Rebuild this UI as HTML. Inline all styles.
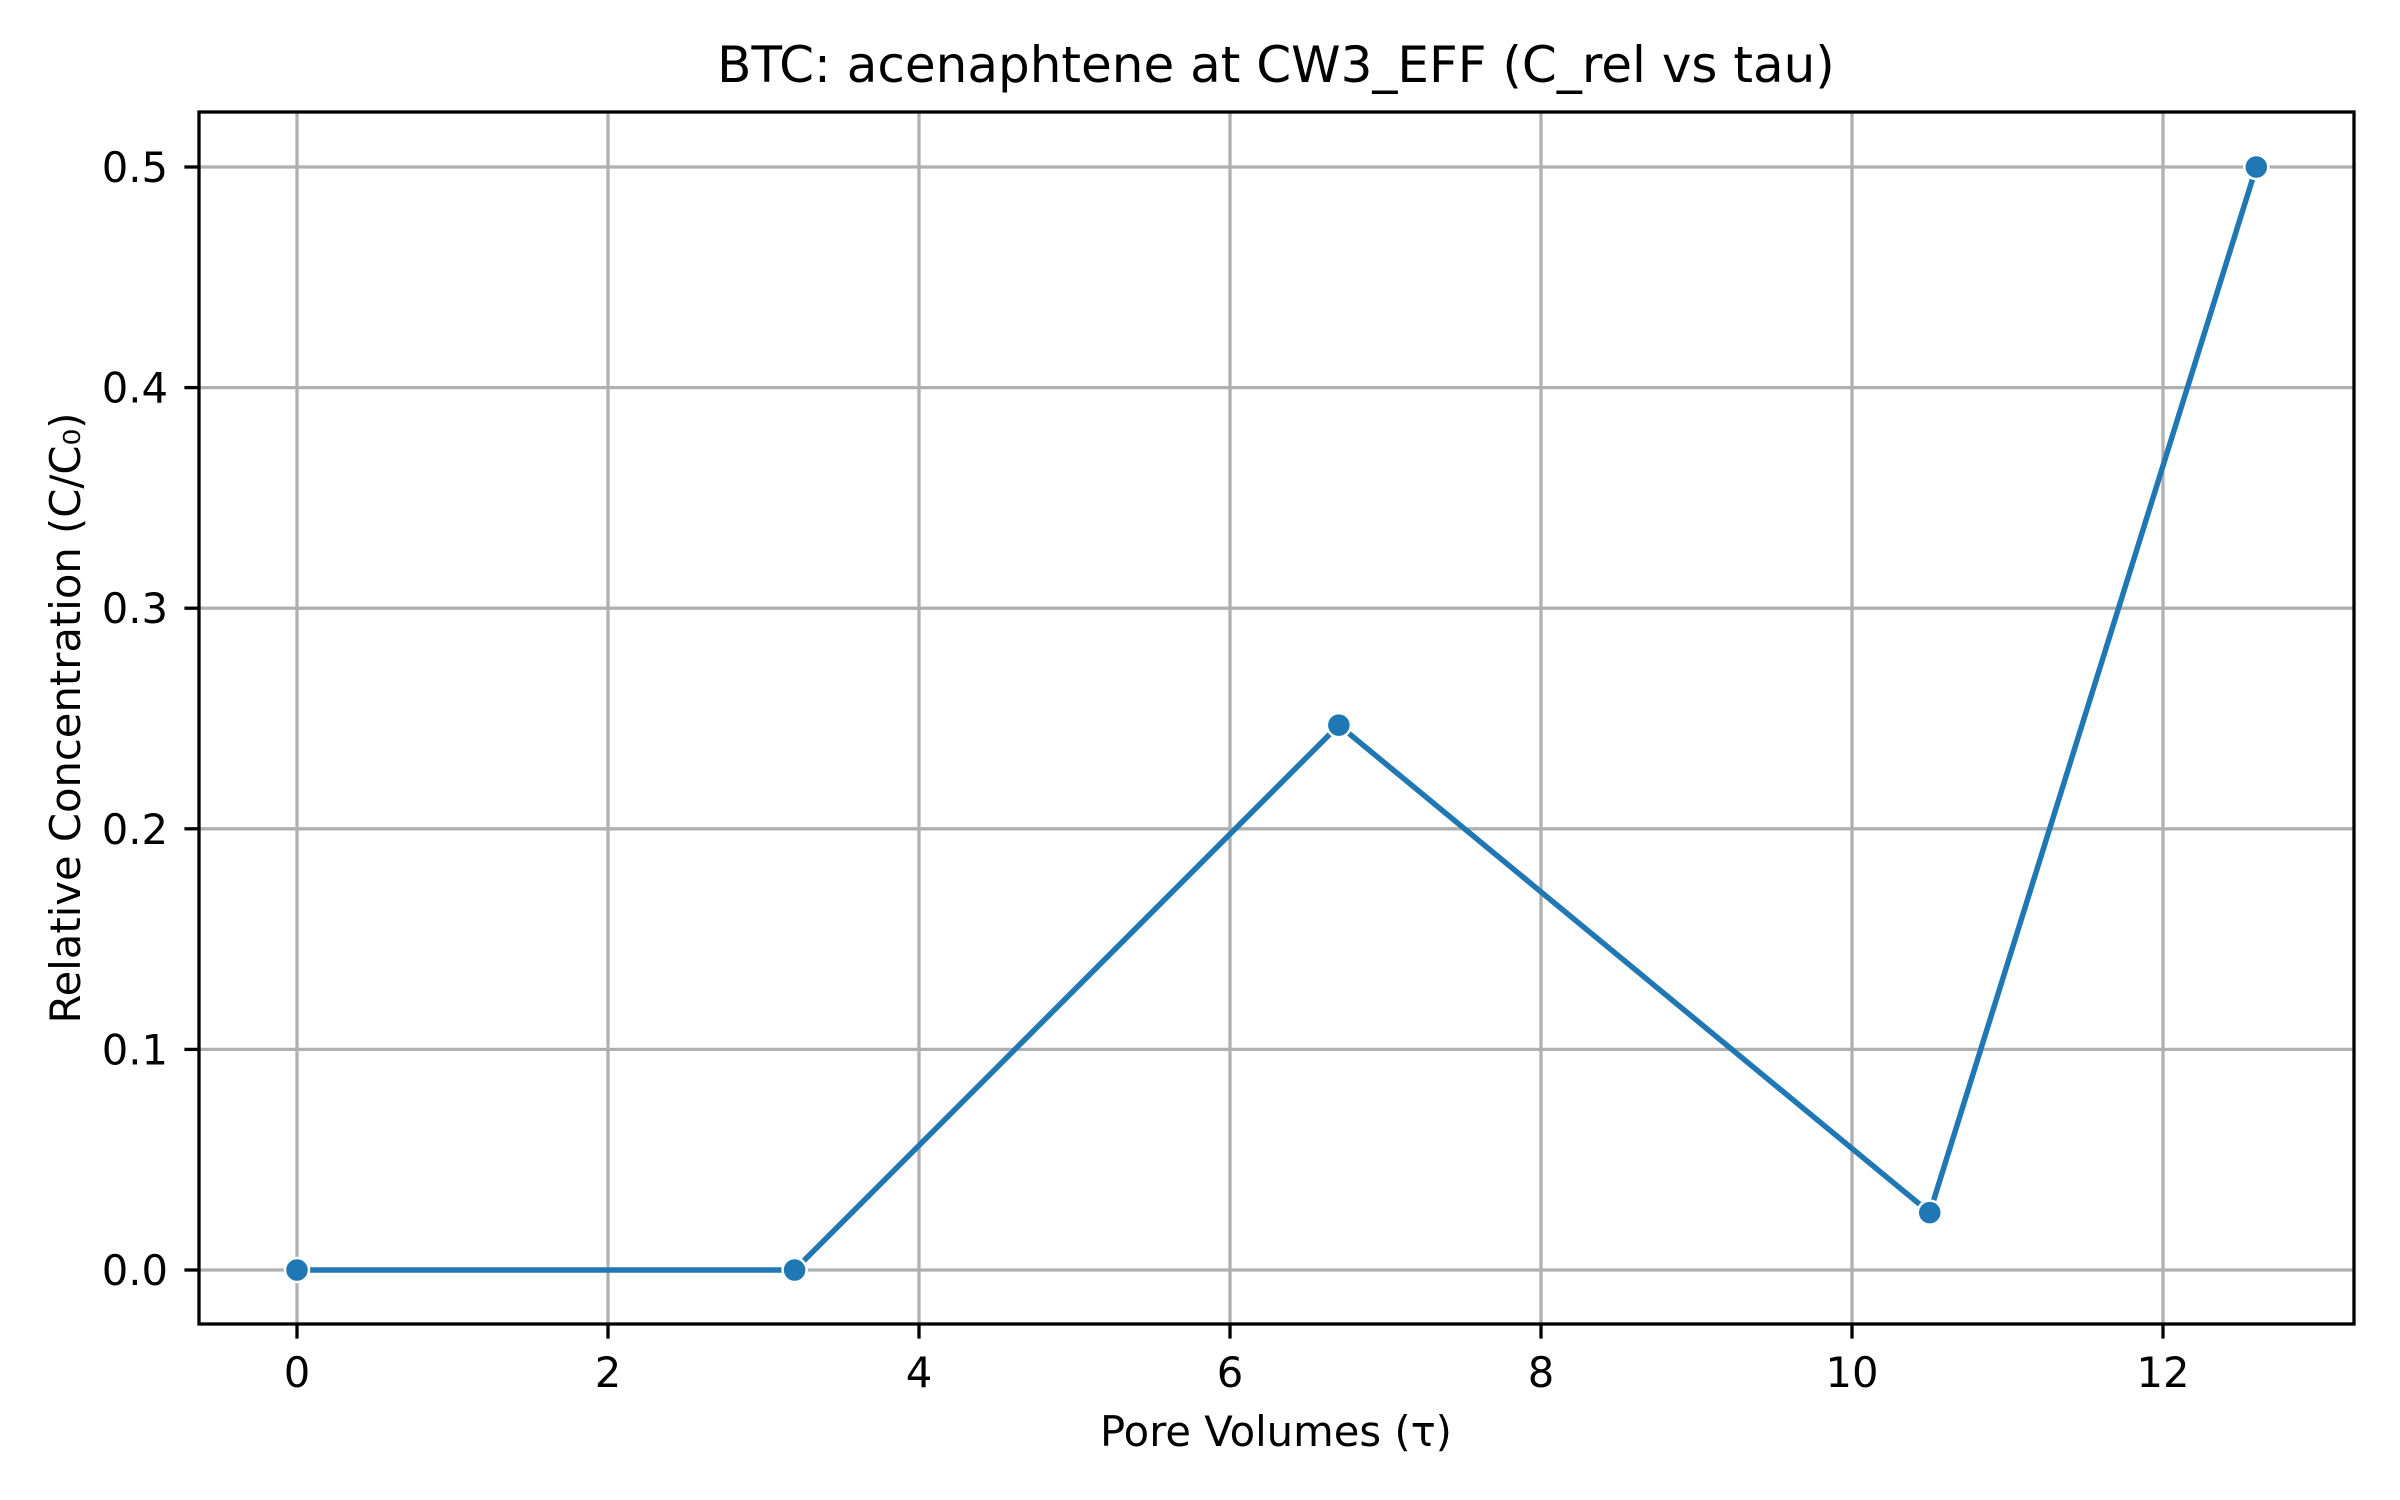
<!DOCTYPE html>
<html><head><meta charset="utf-8"><style>
html,body{margin:0;padding:0;background:#fff;}
svg{display:block;font-family:"DejaVu Sans","Liberation Sans",sans-serif;}
</style></head><body>
<svg id="chart" width="2400" height="1500" viewBox="0 0 2400 1500">
<rect x="0" y="0" width="2400" height="1500" fill="#fff"/>
<g id="grid"></g>
<g id="series"></g>
<rect x="199" y="112" width="2155" height="1212" fill="none" stroke="#000" stroke-width="3.3"/>
<g id="xticks"></g><g id="yticks"></g>
<text x="1276" y="82" text-anchor="middle" font-size="50">BTC: acenaphtene at CW3_EFF (C_rel vs tau)</text>
<text x="1276" y="1446" text-anchor="middle" font-size="41.7">Pore Volumes (τ)</text>
<text transform="translate(80,718) rotate(-90)" text-anchor="middle" font-size="41.7">Relative Concentration (C/C₀)</text>
</svg>
<script>
const tauValues=[0,3.2,6.7,10.5,12.6];
const crelValues=[0,0,0.247,0.026,0.5];
const xTickValues=[0,2,4,6,8,10,12];
const yTickValues=[0.0,0.1,0.2,0.3,0.4,0.5];
const yTickLabels=["0.0","0.1","0.2","0.3","0.4","0.5"];
const L=199,R=2354,T=112,B=1324;
function xs(v){return 297+v*155.5;}
function ys(v){return 1270-v*2206;}
const NS="http://www.w3.org/2000/svg";
function mk(t,a,p){const e=document.createElementNS(NS,t);for(const k in a)e.setAttribute(k,a[k]);p.appendChild(e);return e;}
const grid=document.getElementById('grid'),xt=document.getElementById('xticks'),yt=document.getElementById('yticks'),se=document.getElementById('series');
xTickValues.forEach(v=>{const x=xs(v);
const g=mk('line',{x1:x,x2:x,y1:T,y2:B,stroke:'#b0b0b0','stroke-width':3.3},grid);


const t=mk('line',{x1:x,x2:x,y1:B,y2:B+14.6,stroke:'#000','stroke-width':3.3},xt);


const l=mk('text',{x:x,y:1387,'text-anchor':'middle','font-size':41.7},xt);l.textContent=String(v);

});
yTickValues.forEach((v,i)=>{const y=ys(v);
const g=mk('line',{x1:L,x2:R,y1:y,y2:y,stroke:'#b0b0b0','stroke-width':3.3},grid);


const t=mk('line',{x1:L-14.6,x2:L,y1:y,y2:y,stroke:'#000','stroke-width':3.3},yt);


const l=mk('text',{x:168,y:y+15,'text-anchor':'end','font-size':41.7},yt);l.textContent=yTickLabels[i];

});
const pts=tauValues.map((v,i)=>xs(v)+','+ys(crelValues[i])).join(' ');
const pl=mk('polyline',{points:pts,fill:'none',stroke:'#1f77b4','stroke-width':5.5,'stroke-linejoin':'round'},se);


tauValues.forEach((v,i)=>{const c=mk('circle',{cx:xs(v),cy:ys(crelValues[i]),r:12,fill:'#1f77b4',stroke:'#fff','stroke-width':2.5},se);

});
</script>
</body></html>
